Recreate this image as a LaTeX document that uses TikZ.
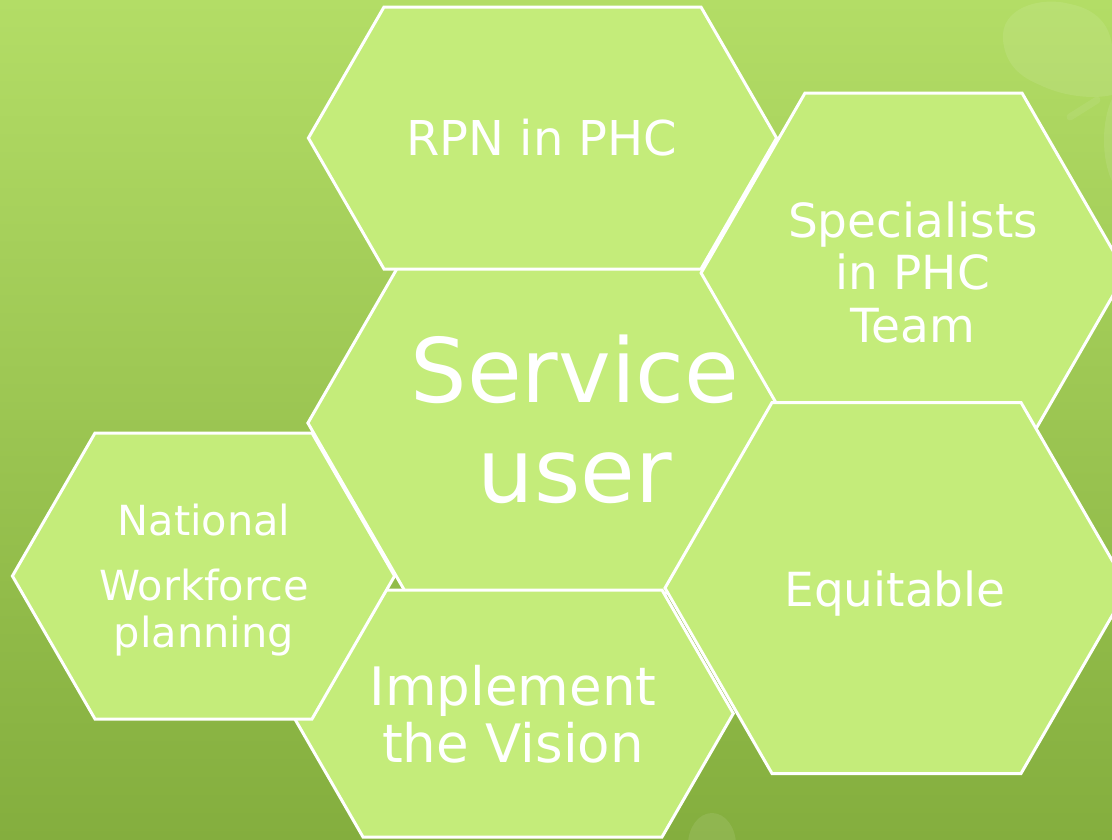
\documentclass[tikz,border=0pt]{standalone}
\usepackage{fontspec}
\setmainfont{DejaVu Sans}
\usepackage{tikz}
\definecolor{bgtop}{HTML}{B3DD66}
\definecolor{bgbottom}{HTML}{84AE3E}
\definecolor{cellgreen}{HTML}{C4EC7A}
\tikzset{
  cell/.style={fill=cellgreen, draw=white, line width=3pt, line join=miter},
  celltext/.style={text=white, align=center, inner sep=0pt},
  leaf/.style={fill=white, opacity=0.09}
}

\begin{document}
\begin{tikzpicture}[x=1pt,y=-1pt]

\useasboundingbox (0,0) rectangle (1112,839);
\clip (0,0) rectangle (1112,839);
\shade[top color=bgtop, bottom color=bgbottom] (0,0) rectangle (1112,839);

\fill[leaf] (1003,40) .. controls (1000,8) and (1040,-4) .. (1070,4)
    .. controls (1100,10) and (1115,30) .. (1112,60) -- (1112,95)
    .. controls (1090,100) and (1060,95) .. (1040,85)
    .. controls (1015,75) and (1005,60) .. (1003,40) -- cycle;
\fill[leaf] (1128,140) ellipse (24 and 55);
\draw[white, opacity=0.07, line width=7pt, line cap=round] (1097,100) -- (1070,117);
\fill[leaf] (712,845) ellipse (24 and 32);

\draw[cell] (307.9,423) -- (406,253) -- (744,253) -- (842.1,423)
    -- (744,593) -- (406,593) -- cycle;
\node[celltext, font=\fontsize{89}{100}\selectfont] (serviceuser) at (575,419) {Service\\user};

\draw[cell] (308.4,138) -- (384,7) -- (701,7) -- (776.6,138)
    -- (701,269) -- (384,269) -- cycle;
\node[celltext, font=\fontsize{48}{56}\selectfont] (rpn) at (542,138) {RPN in PHC};

\draw[cell] (701.1,273) -- (805,93) -- (1022,93) -- (1125.9,273)
    -- (1022,453) -- (805,453) -- cycle;
\node[celltext, font=\fontsize{47}{52.5}\selectfont] (specialists) at (913,272) {Specialists\\in PHC\\Team};

\draw[cell] (665,588) -- (772,402.5) -- (1021,402.5) -- (1128.1,588)
    -- (1021,773.5) -- (772,773.5) -- cycle;
\node[celltext, font=\fontsize{47}{56}\selectfont] (equitable) at (895,594) {Equitable};

\draw[cell] (291.7,713.5) -- (363,590) -- (662,590) -- (733.3,713.5)
    -- (662,837) -- (363,837) -- cycle;
\node[celltext, font=\fontsize{53}{57}\selectfont] (implement) at (513,714) {Implement\\the Vision};

\draw[cell] (12.4,576) -- (95,433) -- (312,433) -- (394.6,576)
    -- (312,719) -- (95,719) -- cycle;
\node[celltext, font=\fontsize{41.5}{47}\selectfont] (workforce) at (204,580) {National\\[18pt]Workforce\\planning};

\end{tikzpicture}
\end{document}
